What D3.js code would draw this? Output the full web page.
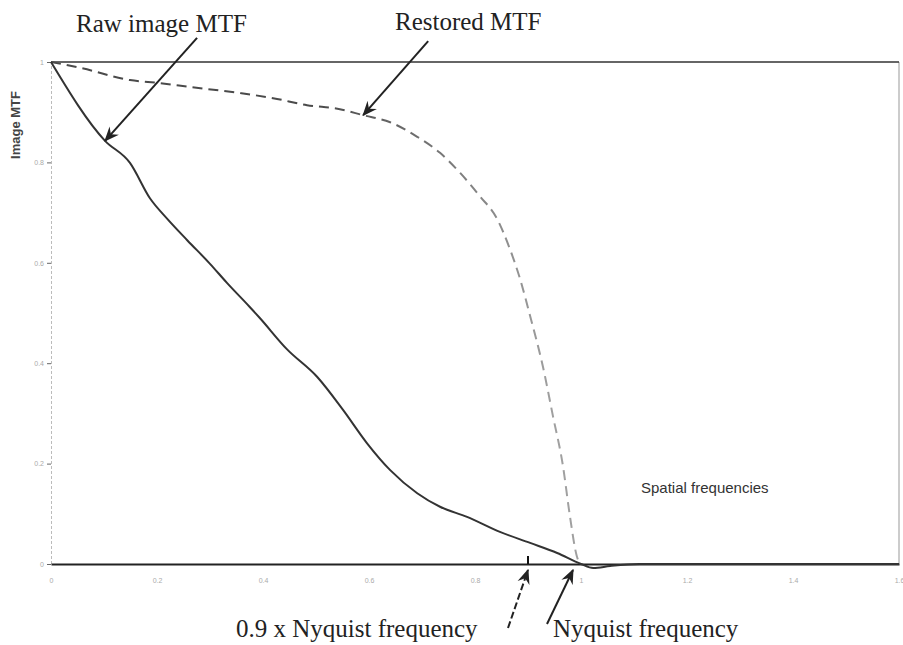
<!DOCTYPE html>
<html>
<head>
<meta charset="utf-8">
<script src="https://cdn.jsdelivr.net/npm/d3@7"></script>
<style>
  body { margin: 0; background: #fff; }
  svg { display: block; }
</style>
</head>
<body>
<svg></svg>
<script>
let width = 903;
let height = 645;

// data
const xTicks = [0, 0.2, 0.4, 0.6, 0.8, 1, 1.2, 1.4, 1.6];
const yTicks = [0, 0.2, 0.4, 0.6, 0.8, 1];

const idealMtf = [[0, 1], [1.6, 1]];

const rawMtf = [
  [0, 1], [0.102, 0.843], [0.149, 0.799], [0.187, 0.728], [0.219, 0.688],
  [0.257, 0.645], [0.300, 0.598], [0.332, 0.560], [0.375, 0.512], [0.394, 0.490],
  [0.445, 0.428], [0.502, 0.373], [0.551, 0.307], [0.596, 0.241], [0.640, 0.187],
  [0.691, 0.141], [0.734, 0.114], [0.785, 0.094], [0.847, 0.064], [0.904, 0.042],
  [0.955, 0.022], [1.0, 0], [1.023, -0.008], [1.055, -0.004], [1.11, 0], [1.6, 0]
];

const restoredMtf = [
  [0, 1], [0.057, 0.988], [0.149, 0.964], [0.206, 0.958], [0.264, 0.950],
  [0.357, 0.938], [0.419, 0.928], [0.483, 0.914], [0.545, 0.906], [0.589, 0.894],
  [0.640, 0.880], [0.691, 0.851], [0.734, 0.819], [0.772, 0.779], [0.809, 0.733],
  [0.842, 0.687], [0.866, 0.627], [0.885, 0.568], [0.904, 0.494], [0.928, 0.394],
  [0.947, 0.295], [0.966, 0.195], [0.979, 0.096], [0.992, 0.016], [0.998, 0]
];

const svg = d3.select("svg")
  .attr("width", width)
  .attr("height", height);

//scales
const xScale = d3.scaleLinear().domain([0, 1.6]).range([51, 899]);
const yScale = d3.scaleLinear().domain([0, 1]).range([564, 62]);

const line = d3.line()
  .x((d) => xScale(d[0]))
  .y((d) => yScale(d[1]))
  .curve(d3.curveMonotoneX);

//defs
const defs = svg.append("defs");
const grad = defs.append("linearGradient")
  .attr("id", "fade")
  .attr("gradientUnits", "userSpaceOnUse")
  .attr("x1", xScale(0.5)).attr("x2", xScale(0.95))
  .attr("y1", 0).attr("y2", 0);
grad.append("stop").attr("offset", 0).attr("stop-color", "#4a4a4a");
grad.append("stop").attr("offset", 1).attr("stop-color", "#a0a0a0");

defs.append("marker")
  .attr("id", "head")
  .attr("viewBox", "0 0 12 10")
  .attr("refX", 11)
  .attr("refY", 5)
  .attr("markerWidth", 15)
  .attr("markerHeight", 13)
  .attr("markerUnits", "userSpaceOnUse")
  .attr("orient", "auto")
  .append("path")
    .attr("d", "M0,0 L12,5 L0,10 L4,5 Z")
    .attr("fill", "#222");

//axes
const yAxis = d3.axisLeft(yScale)
  .tickValues(yTicks)
  .tickSize(4)
  .tickFormat(d3.format("~g"));
const gy = svg.append("g")
  .attr("transform", `translate(${xScale(0)}, 0)`)
  .call(yAxis);
gy.select(".domain")
  .attr("stroke", "#bbb")
  .attr("stroke-dasharray", "3,2");
gy.selectAll(".tick line").attr("stroke", "#666");
gy.selectAll(".tick text")
  .attr("fill", "#aaa")
  .attr("font-family", "Liberation Sans")
  .attr("font-size", 7);

const xAxis = d3.axisBottom(xScale)
  .tickValues(xTicks)
  .tickSize(0)
  .tickPadding(14)
  .tickFormat(d3.format("~g"));
const gx = svg.append("g")
  .attr("transform", `translate(0, ${yScale(0)})`)
  .call(xAxis);
gx.select(".domain")
  .attr("stroke", "#222")
  .attr("stroke-width", 2);
gx.selectAll(".tick text")
  .attr("fill", "#aaa")
  .attr("font-family", "Liberation Sans")
  .attr("font-size", 7);

//right border
svg.append("line")
  .attr("x1", xScale(1.6)).attr("x2", xScale(1.6))
  .attr("y1", yScale(1)).attr("y2", yScale(0))
  .attr("stroke", "#999")
  .attr("stroke-width", 1);

//0.9 Nyquist tick
svg.append("line")
  .attr("x1", xScale(0.9)).attr("x2", xScale(0.9))
  .attr("y1", yScale(0) - 8).attr("y2", yScale(0))
  .attr("stroke", "#111")
  .attr("stroke-width", 2);

//curves
svg.append("path")
  .datum(idealMtf)
  .attr("d", d3.line().x((d) => xScale(d[0])).y((d) => yScale(d[1])))
  .attr("fill", "none")
  .attr("stroke", "#333")
  .attr("stroke-width", 1.6);

svg.append("path")
  .datum(restoredMtf)
  .attr("d", line)
  .attr("fill", "none")
  .attr("stroke", "url(#fade)")
  .attr("stroke-width", 2)
  .attr("stroke-dasharray", "10,6");

svg.append("path")
  .datum(rawMtf)
  .attr("d", line)
  .attr("fill", "none")
  .attr("stroke", "#333")
  .attr("stroke-width", 2);

//labels
svg.append("text")
  .attr("transform", "translate(20, 125) rotate(-90)")
  .attr("text-anchor", "middle")
  .attr("font-family", "Liberation Sans")
  .attr("font-weight", "bold")
  .attr("font-size", 13)
  .attr("fill", "#444")
  .text("Image MTF");

svg.append("text")
  .attr("x", 641)
  .attr("y", 493)
  .attr("font-family", "Liberation Sans")
  .attr("font-size", 15)
  .attr("fill", "#333")
  .text("Spatial frequencies");

//annotations
function annotate(text, tx, ty, tipX, tipY, dx, dy, dashed) {
  svg.append("text")
    .attr("x", tx)
    .attr("y", ty)
    .attr("font-family", "Liberation Serif")
    .attr("font-size", 25)
    .attr("fill", "#222")
    .text(text);
  svg.append("line")
    .attr("x1", tipX + dx).attr("y1", tipY + dy)
    .attr("x2", tipX).attr("y2", tipY)
    .attr("stroke", "#222")
    .attr("stroke-width", 2)
    .attr("stroke-dasharray", dashed ? "7,3" : null)
    .attr("marker-end", "url(#head)");
}

annotate("Raw image MTF", 76, 32, xScale(rawMtf[1][0]), yScale(rawMtf[1][1]), 92, -103, false);
annotate("Restored MTF", 395, 30, xScale(restoredMtf[9][0]), yScale(restoredMtf[9][1]), 65, -74, false);
annotate("0.9 x Nyquist frequency", 236, 637, xScale(0.9), yScale(0) + 6, -20, 58, true);
annotate("Nyquist frequency", 553, 637, xScale(1) - 8, yScale(0) + 6, -26, 54, false);
</script>
</body>
</html>
